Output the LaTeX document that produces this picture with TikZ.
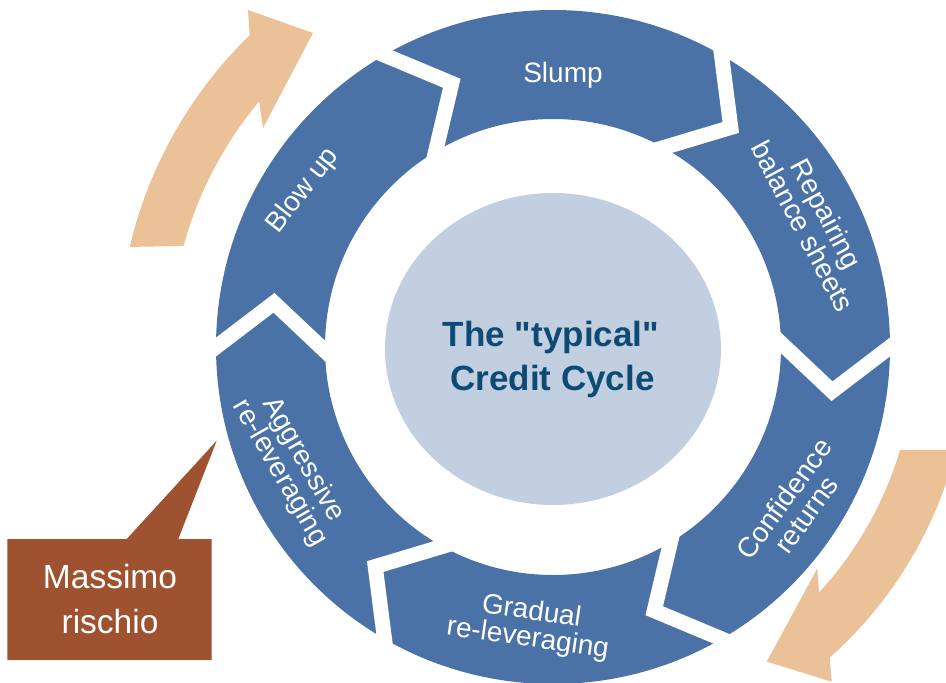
\documentclass[tikz,border=0pt]{standalone}
\usepackage{fontspec}
\setmainfont{Liberation Sans}
\newfontfamily\titlefont{Liberation Sans}
\usetikzlibrary{calc}
\definecolor{ringblue}{HTML}{4A72A7}
\definecolor{coreblue}{HTML}{C1CFE1}
\definecolor{titleblue}{HTML}{0E4B74}
\definecolor{peach}{HTML}{EBC198}
\definecolor{rust}{HTML}{9E5230}
\tikzset{
  seglabel/.style={text=white,font=\fontsize{28}{28}\selectfont,inner sep=0pt,anchor=base},
  titlelabel/.style={text=titleblue,font=\titlefont\bfseries\fontsize{35}{35}\selectfont,inner sep=0pt,anchor=base},
  calloutlabel/.style={text=white,font=\fontsize{33.5}{33.5}\selectfont,inner sep=0pt,anchor=base},
  gapline/.style={white,line width=15pt,line join=miter},
  bigarrow/.style={fill=peach},
  calloutbox/.style={fill=rust},
}
\begin{document}
\begin{tikzpicture}[x=1pt,y=1pt]
\useasboundingbox (0,0) rectangle (946,-683);
\clip (0,0) rectangle (946,-683);
\coordinate (C) at (553,-347);
% ring of six chevron segments
\fill[ringblue,even odd rule] (C) circle[radius=337] (C) circle[radius=228];
\foreach \j in {180,120,60,0,-60,-120}{
  \coordinate (O) at ($(C)+(\j:337)$);
  \coordinate (M) at ($(C)+({\j-9}:282.5)$);
  \coordinate (I) at ($(C)+({\j+1}:228)$);
  \draw[gapline] ($(M)!1.5!(O)$) -- (M) -- ($(M)!1.5!(I)$);
}
% centre
\fill[coreblue] (553,-349) ellipse[x radius=168,y radius=156];
\node[titlelabel] (t1) at (551,-346.7) {The "typical"};
\node[titlelabel] (t2) at (552.5,-390.7) {Credit Cycle};
% segment labels
\node[seglabel] (slump) at (563,-82) {Slump};
\begin{scope}[shift={(815,-220)},rotate=-62,transform shape]
  \node[seglabel] (rep1) at (0,3.5) {Repairing};
  \node[seglabel] (rep2) at (0,-23.5) {balance sheets};
\end{scope}
\begin{scope}[shift={(795,-506.5)},rotate=54,transform shape]
  \node[seglabel] (conf1) at (0,3.5) {Confidence};
  \node[seglabel] (conf2) at (0,-23.5) {returns};
\end{scope}
\begin{scope}[shift={(530,-623)},rotate=-8,transform shape]
  \node[seglabel] (grad1) at (0,3.5) {Gradual};
  \node[seglabel] (grad2) at (0,-23.5) {re-leveraging};
\end{scope}
\begin{scope}[shift={(294,-465)},rotate=-60,transform shape]
  \node[seglabel] (aggr1) at (0,3.5) {Aggressive};
  \node[seglabel] (aggr2) at (0,-23.5) {re-leveraging};
\end{scope}
\begin{scope}[shift={(301,-189)},rotate=52,transform shape]
  \node[seglabel] (blow) at (0,-10) {Blow up};
\end{scope}
% peach curved arrows
\fill[bigarrow] ($(C)+(166.7:435)$) arc[start angle=166.7,end angle=134.2,radius=435]
  -- (248,-10) -- (313,-33) -- (263,-128) -- ($(C)+(140.1:383)$)
  arc[start angle=140.1,end angle=164.7,radius=383] -- cycle;
\fill[bigarrow] ($(C)+(-16.5:362)$) arc[start angle=-16.5,end angle=-42.7,radius=362]
  -- (817.3,-568.3) -- (766.7,-661.7) -- (831.7,-681.7) -- ($(C)+(-48.3:416)$)
  arc[start angle=-48.3,end angle=-14.3,radius=416] -- cycle;
% callout
\fill[calloutbox] (7.3,-539) -- (126.7,-539) -- (216.7,-440.7) -- (178.3,-539)
  -- (211.7,-539) -- (211.7,-660) -- (7.3,-660) -- cycle;
\node[calloutlabel] (ms1) at (110,-588) {Massimo};
\node[calloutlabel] (ms2) at (110,-633) {rischio};
\end{tikzpicture}
\end{document}
